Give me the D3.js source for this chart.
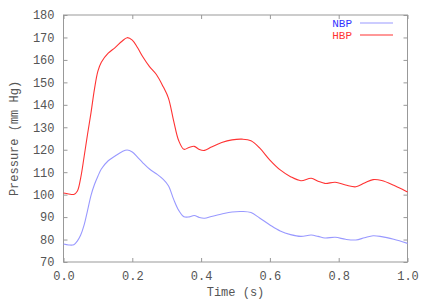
<!DOCTYPE html>
<html><head><meta charset="utf-8">
<script src="https://cdn.jsdelivr.net/npm/d3@7"></script>
<style>
html,body{margin:0;padding:0;background:#fff;}
svg text{font-family:"Liberation Mono","DejaVu Sans Mono",monospace;}
</style></head>
<body><svg id="c" width="429" height="300"></svg>
<script>
const time = [0,0.015,0.03,0.04,0.05,0.06,0.07,0.08,0.09,0.10,0.11,0.13,0.15,0.17,0.185,0.2,0.215,0.23,0.25,0.27,0.29,0.305,0.32,0.335,0.35,0.365,0.38,0.395,0.41,0.43,0.46,0.49,0.52,0.545,0.57,0.6,0.63,0.66,0.69,0.72,0.74,0.76,0.79,0.82,0.85,0.875,0.9,0.925,0.96,1.0];
const hbp = [100.7,100.3,100.1,101.5,107.5,117,127,136.5,147,155,159,163,165.5,168.3,169.9,168.8,165.5,161.5,157,153.5,148,143,133,124,120.2,121,121.5,120.1,119.7,121.2,123.2,124.4,124.7,124,120.8,115.4,111,108,106.2,107.3,106,105,105.5,104.3,103.5,105.2,106.7,106.3,104.2,101.2];
const nbp = [78.0,77.6,77.7,79.3,82,86.5,93,99.7,104.5,108.2,111.4,115.1,117.2,119.1,119.9,119,116.7,114.3,111.4,109.3,106.8,104,98,93,90.2,90.1,90.7,89.8,89.5,90.3,91.4,92.3,92.5,92,89.6,86.5,83.8,82.2,81.4,82,81.4,80.7,81,80.1,79.8,80.8,81.7,81.3,80.1,78.3];
const xTicks = [0,0.2,0.4,0.6,0.8,1.0];
const yTicks = [70,80,90,100,110,120,130,140,150,160,170,180];
const seriesNames = ["NBP","HBP"];
const seriesColors = ["#9999ff","#ff3333"];
const legendText = ["#3333ff","#ff3333"];

const svg = d3.select("#c");
const L=63.5, R=407.5, T=15, B=262;
const x = d3.scaleLinear().domain([0,1]).range([L,R]);
const y = d3.scaleLinear().domain([70,180]).range([B,T]);
const axisCol = "#999";
const txtCol = "#555";
const fs = "12px";
const g = svg.append("g");

g.append("rect").attr("x",L).attr("y",T).attr("width",R-L).attr("height",B-T)
 .attr("fill","none").attr("stroke",axisCol).attr("stroke-width",1);

function styleAxis(sel, labels){
  sel.select(".domain").remove();
  sel.selectAll("line").attr("stroke",axisCol);
  sel.selectAll("text").attr("fill",txtCol).style("font-size",fs).style("font-family","'Liberation Mono',monospace");
  if(!labels) sel.selectAll("text").remove();
}
const fmtX = d3.format(".1f");
g.append("g").attr("transform",`translate(0,${B})`)
 .call(d3.axisBottom(x).tickValues(xTicks).tickFormat(fmtX).tickSizeInner(-4).tickPadding(9)).call(s=>styleAxis(s,true));
g.append("g").attr("transform",`translate(0,${T})`)
 .call(d3.axisTop(x).tickValues(xTicks).tickSizeInner(-4)).call(s=>styleAxis(s,false));
g.append("g").attr("transform",`translate(${L},0)`)
 .call(d3.axisLeft(y).tickValues(yTicks).tickSizeInner(-4).tickPadding(9)).call(s=>styleAxis(s,true));
g.append("g").attr("transform",`translate(${R},0)`)
 .call(d3.axisRight(y).tickValues(yTicks).tickSizeInner(-4)).call(s=>styleAxis(s,false));

const line = d3.line().curve(d3.curveCatmullRom.alpha(0.5));
[nbp,hbp].forEach((vals,i)=>{
  g.append("path").attr("d", line(time.map((t,j)=>[x(t),y(vals[j])])))
   .attr("fill","none").attr("stroke",seriesColors[i]).attr("stroke-width",1.1);
});

seriesNames.forEach((n,i)=>{
  const ly = 23 + i*12;
  g.append("text").attr("x",352).attr("y",ly+4).attr("text-anchor","end")
   .attr("fill",legendText[i]).style("font-size","11px").text(n);
  g.append("line").attr("x1",360).attr("x2",393).attr("y1",ly).attr("y2",ly)
   .attr("stroke",seriesColors[i]).attr("stroke-width",1.1);
});

g.append("text").attr("x",(L+R)/2).attr("y",296).attr("text-anchor","middle")
 .attr("fill",txtCol).style("font-size",fs).text("Time (s)");
g.append("text").attr("transform",`translate(18,${(T+B)/2}) rotate(-90)`).attr("text-anchor","middle")
 .attr("fill",txtCol).style("font-size",fs).text("Pressure (mm Hg)");
</script></body></html>
